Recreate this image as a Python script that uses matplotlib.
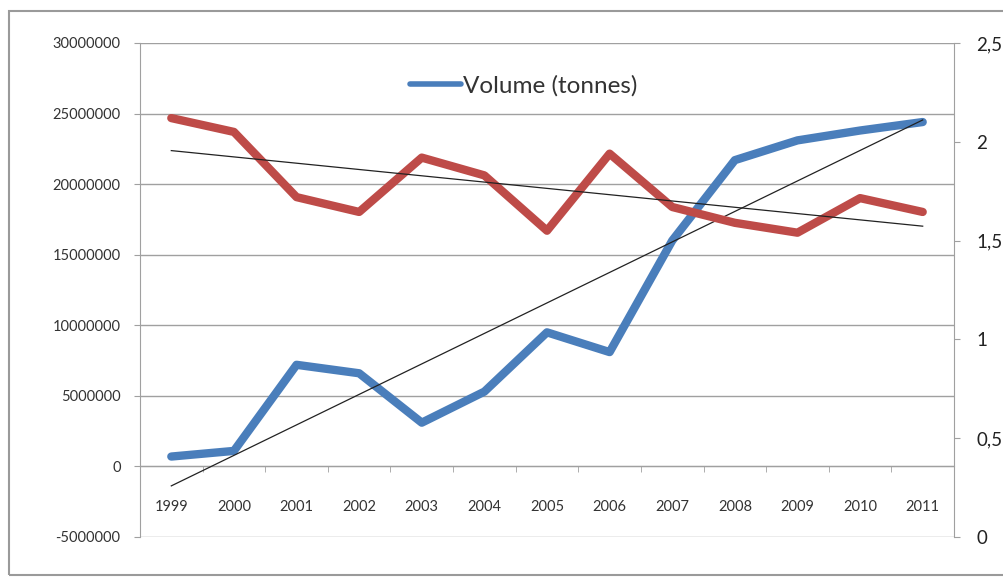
import numpy as np
import matplotlib
matplotlib.use("Agg")
import matplotlib.pyplot as plt
from matplotlib.ticker import FixedLocator, FuncFormatter
from matplotlib.patches import Rectangle

plt.rcParams['font.family'] = ['Lato', 'DejaVu Sans']
plt.rcParams['axes.unicode_minus'] = False

# données annuelles
annees = ['1999', '2000', '2001', '2002', '2003', '2004', '2005',
          '2006', '2007', '2008', '2009', '2010', '2011']
volume = [700000, 1100000, 7200000, 6600000, 3100000, 5300000, 9500000,
          8100000, 16000000, 21700000, 23100000, 23800000, 24400000]
prix = [2.12, 2.05, 1.72, 1.645, 1.92, 1.83, 1.55,
        1.94, 1.67, 1.59, 1.54, 1.715, 1.645]

bleu = '#4a7ebb'
rouge = '#be4b48'
gris = '#a0a0a0'

fig = plt.figure(figsize=(10.04, 5.77), dpi=100)
ax = fig.add_axes([140/1004, 1-537/577, 814/1004, 494/577])
ax2 = ax.twinx()

x = np.arange(len(annees))

# courbes principales
ax.plot(x, volume, color=bleu, lw=6, solid_joinstyle='round',
        solid_capstyle='round', label='Volume (tonnes)', zorder=3)
ax2.plot(x, prix, color=rouge, lw=6, solid_joinstyle='round',
         solid_capstyle='round', zorder=3)

# courbes de tendance (régression linéaire)
p1 = np.polyfit(x, volume, 1)
ax.plot(x, np.polyval(p1, x), color='#222222', lw=0.9, zorder=4)
p2 = np.polyfit(x, prix, 1)
ax2.plot(x, np.polyval(p2, x), color='#222222', lw=0.9, zorder=4)

# axe de gauche
ax.set_xlim(-0.5, len(annees) - 0.5)
ax.set_ylim(-5000000, 30000000)
ax.set_yticks(np.arange(-5000000, 30000001, 5000000))
ax.yaxis.set_major_formatter(FuncFormatter(lambda v, p: '%d' % v))
for y in np.arange(-5000000, 30000001, 5000000):
    ax.axhline(y, color=gris, lw=1, zorder=1)
ax.tick_params(axis='y', length=4, color=gris, labelsize=10.5,
               labelcolor='#333333', pad=10)

# axe des catégories sur la ligne zéro
ax.spines['bottom'].set_position(('data', 0))
ax.spines['bottom'].set_color(gris)
ax.set_xticks(x)
ax.set_xticklabels(annees)
ax.xaxis.set_minor_locator(FixedLocator(np.arange(-0.5, len(annees), 1)))
ax.tick_params(axis='x', which='major', length=0, labelsize=10.5,
               labelcolor='#333333', pad=24)
ax.tick_params(axis='x', which='minor', length=4, color=gris)

for s in ['top']:
    ax.spines[s].set_visible(False)
    ax2.spines[s].set_visible(False)
ax.spines['left'].set_color(gris)
ax2.spines['left'].set_visible(False)
ax2.spines['bottom'].set_visible(False)
ax.spines['right'].set_visible(False)
ax2.spines['right'].set_color(gris)

# axe de droite
ax2.set_ylim(0, 2.5)
ax2.set_yticks([0, 0.5, 1, 1.5, 2, 2.5])
ax2.yaxis.set_major_formatter(
    FuncFormatter(lambda v, p: ('%g' % v).replace('.', ',')))
ax2.tick_params(axis='y', length=4, color=gris, labelsize=13.5,
                labelcolor='#222222', pad=12)

# légende
leg = ax.legend(loc='center left', bbox_to_anchor=(388/1004, 1-86/577),
                bbox_transform=fig.transFigure, frameon=False, fontsize=17.5,
                handlelength=2.1, handletextpad=0.1)
for h in leg.get_lines():
    h.set_linewidth(4)
for t in leg.get_texts():
    t.set_color('#333333')

# cadre du graphique
fig.patches.append(Rectangle((9/1004, 2/577), 1.0, 1-13/577,
                             transform=fig.transFigure, fill=False,
                             edgecolor='#9a9a9a', lw=1.5))

fig.savefig('out.png', dpi=100)
